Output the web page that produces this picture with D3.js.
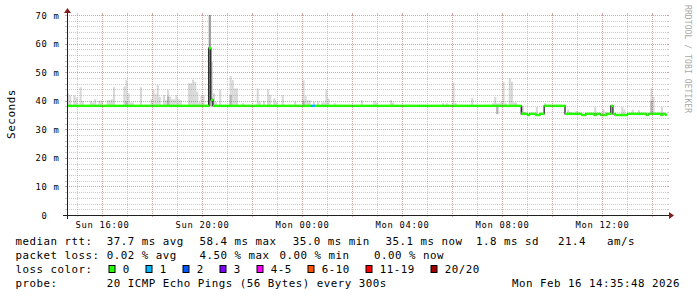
<!DOCTYPE html>
<html>
<head>
<meta charset="utf-8">
<script src="https://cdn.jsdelivr.net/npm/d3@7"></script>
<style>
body { margin: 0; background: #fff; }
text { font-family: "DejaVu Sans Mono", monospace; white-space: pre; }
</style>
</head>
<body>
<script>
(function () {
    //time window of the graph (24 hours, 5 minute samples)
    var tEnd = Date.UTC(2026, 1, 16, 14, 35, 48);
    var tStart = tEnd - 24 * 3600 * 1000;
    var sampleStart = Date.UTC(2026, 1, 15, 14, 36, 0); //left edge of sample 0
    var sampleStep = 300 * 1000;
    var sampleCount = 288;

    //median rtt (ms) as runs: [first sample, value]
    var medianRuns = [
        [0, 38.2], [68, 58.4], [69, 40.3], [70, 38.2],
        [218, 35.4], [221, 35.0], [222, 35.4], [225, 35.0], [227, 35.4],
        [229, 38.2],
        [239, 35.4], [247, 35.0], [249, 35.4], [253, 35.0], [254, 35.4], [256, 35.0], [259, 35.4],
        [261, 38.2],
        [262, 35.4], [263, 35.0], [269, 35.4], [278, 35.0], [279, 35.4], [285, 35.0], [286, 35.4], [287, 35.1]
    ];
    //lost pings per sample as runs: [first sample, lost]
    var lossRuns = [[0, 0], [117, 1], [119, 0]];

    //smoke: [sample, top ms, dark top ms (or null), bottom ms (or null = median)]
    var smoke = [
        [0, 42.6], [1, 41.9], [3, 41.9], [4, 41.2], [6, 44.7], [7, 40.0], [11, 40.0], [12, 39.4],
        [13, 40.5], [15, 40.0], [16, 40.0], [19, 40.2], [20, 40.2], [21, 40.5], [22, 44.7],
        [27, 44.9], [28, 47.2, 39.8], [29, 42.6], [30, 39.4], [31, 39.4], [35, 44.7],
        [40, 40.5], [41, 43.8], [42, 42.3], [43, 45.5], [44, 41.4], [46, 42.0], [47, 40.2],
        [48, 43.8, 41.5], [49, 41.4], [50, 40.5], [51, 40.5], [52, 42.0], [53, 40.5], [54, 40.2],
        [58, 46.1], [59, 46.1], [60, 47.4], [61, 46.6], [62, 43.2], [63, 39.4], [64, 41.9], [65, 41.9],
        [68, 71.0, 71.0, 38.2], [69, 53.7, 41.0, 38.2], [70, 42.6], [71, 39.5], [73, 44.0],
        [78, 48.6, 42.0], [79, 47.2], [80, 44.3], [81, 44.3], [84, 39.1],
        [91, 44.3], [92, 39.7], [94, 40.0], [96, 44.0], [97, 42.0], [99, 40.8], [100, 39.7],
        [103, 42.0], [109, 39.7], [113, 47.2, 40.0], [114, 41.6], [115, 40.2], [116, 40.2],
        [118, 39.7], [120, 39.7], [122, 39.4], [123, 39.4], [124, 44.0], [125, 40.8], [128, 39.1],
        [141, 40.2], [147, 40.0], [148, 39.4], [155, 40.2], [156, 39.4],
        [180, 39.1], [182, 39.1], [185, 46.3], [186, 39.1], [194, 41.0],
        [204, 39.1], [205, 41.4], [206, 39.1, 38.2, 35.3], [207, 39.1], [208, 39.7], [209, 46.6],
        [210, 39.1], [212, 47.8], [213, 46.6], [214, 39.4], [215, 39.4],
        [218, 38.2, 38.2, 35.2], [219, 36.0, 36.0], [225, 37.8], [229, 39.1],
        [240, 36.9], [241, 36.1], [244, 36.4], [245, 36.1], [253, 37.8], [257, 36.9], [258, 36.1],
        [266, 37.8], [267, 36.9], [271, 36.9], [274, 36.7], [280, 44.3, 40.0], [281, 41.4], [285, 37.8]
    ];

    var yTicks = [0, 10, 20, 30, 40, 50, 60, 70];
    var yTickLabels = [" 0", "10 m", "20 m", "30 m", "40 m", "50 m", "60 m", "70 m"];

    var lossLabels = ["0", "1", "2", "3", "4-5", "6-10", "11-19", "20/20"];
    var lossColors = ["#26ff00", "#00b8ff", "#0059ff", "#7e00ff", "#ff00ff", "#ff5500", "#ff0000", "#a10000"];

    var rttItems = ["median rtt:", "37.7 ms avg", "58.4 ms max", "35.0 ms min", "35.1 ms now", "1.8 ms sd", "21.4   am/s"];
    var lossItems = ["packet loss:", "0.02 % avg", "4.50 % max", "0.00 % min", "0.00 % now"];
    var probeItems = ["probe:", "20 ICMP Echo Pings (56 Bytes) every 300s", "Mon Feb 16 14:35:48 2026"];

    //layout
    var width = 697, height = 297;
    var X0 = 67, X1 = 667, Y0 = 215, Y1 = 15;

    var svg = d3.select("body").append("svg")
        .attr("width", width)
        .attr("height", height);

    var x = d3.scaleUtc().domain([tStart, tEnd]).range([X0, X1]);
    var y = d3.scaleLinear().domain([0, 70]).range([Y0, Y1]);

    //expand runs into one value per sample
    function fromRuns(runs) {
        var out = [], r = 0;
        for (var k = 0; k < sampleCount; k++) {
            while (r + 1 < runs.length && runs[r + 1][0] <= k) r++;
            out.push(runs[r][1]);
        }
        return out;
    }
    var median = fromRuns(medianRuns);
    var loss = fromRuns(lossRuns);
    function tLeft(k) { return sampleStart + k * sampleStep; }

    svg.append("defs").append("clipPath").attr("id", "plot")
        .append("rect").attr("x", X0).attr("y", Y1).attr("width", X1 - X0).attr("height", Y0 - Y1);

    var plot = svg.append("g").attr("clip-path", "url(#plot)");

    //smoke, light part then dark part
    plot.selectAll(".smoke").data(smoke).enter().append("rect")
        .attr("x", function (d) { return x(tLeft(d[0])); })
        .attr("width", function (d) { return x(tLeft(d[0] + 1)) - x(tLeft(d[0])); })
        .attr("y", function (d) { return y(d[1]); })
        .attr("height", function (d) { var lo = d[3] != null ? d[3] : median[d[0]]; return Math.max(0, y(lo) - y(d[1])); })
        .attr("fill", "#d8d8d8");
    plot.selectAll(".smokeDark").data(smoke.filter(function (d) { return d[2] != null; })).enter().append("rect")
        .attr("x", function (d) { return x(tLeft(d[0])); })
        .attr("width", function (d) { return x(tLeft(d[0] + 1)) - x(tLeft(d[0])); })
        .attr("y", function (d) { return y(d[2]); })
        .attr("height", function (d) { var lo = d[3] != null ? d[3] : median[d[0]]; return Math.max(0, y(lo) - y(d[2])); })
        .attr("fill", function (d) { return d[2] > 60 ? "#9a9a9a" : "#b4b4b4"; });

    //grid
    var grid = svg.append("g");
    d3.range(2, 71, 2).forEach(function (v) {
        var major = v % 10 === 0;
        var c = major ? "rgba(130,30,30,0.4)" : "rgba(140,140,140,0.45)";
        var yy = Math.round(y(v)) + 0.5;
        grid.append("line").attr("x1", X0).attr("x2", X1).attr("y1", yy).attr("y2", yy)
            .attr("stroke", c).attr("stroke-dasharray", "1,1");
        grid.append("line").attr("x1", X0 - 2).attr("x2", X0).attr("y1", yy).attr("y2", yy).attr("stroke", c);
        grid.append("line").attr("x1", X1).attr("x2", X1 + 2).attr("y1", yy).attr("y2", yy).attr("stroke", c);
    });
    x.ticks(d3.utcHour.every(1)).forEach(function (t) {
        var major = t.getUTCHours() % 2 === 0;
        var c = major ? "rgba(130,30,30,0.4)" : "rgba(140,140,140,0.45)";
        var xx = Math.round(x(t)) + 0.5;
        grid.append("line").attr("x1", xx).attr("x2", xx).attr("y1", Y1).attr("y2", Y0)
            .attr("stroke", c).attr("stroke-dasharray", "1,1");
        grid.append("line").attr("x1", xx).attr("x2", xx).attr("y1", Y0).attr("y2", Y0 + 2).attr("stroke", c);
        grid.append("line").attr("x1", xx).attr("x2", xx).attr("y1", Y1 - 2).attr("y2", Y1).attr("stroke", c);
    });

    //median line (black steps) under the loss coloured band
    var pts = median.map(function (v, k) { return [x(tLeft(k)), y(v)]; });
    pts.push([x(tLeft(sampleCount)), y(median[sampleCount - 1])]);
    plot.append("path")
        .attr("d", d3.line().curve(d3.curveStepAfter)(pts))
        .attr("fill", "none")
        .attr("stroke", "#111")
        .attr("stroke-width", 1.2);

    var swidth = 0.42; //half height of the band in ms
    plot.selectAll(".band").data(median).enter().append("rect")
        .attr("x", function (d, k) { return x(tLeft(k)); })
        .attr("width", function (d, k) { return x(tLeft(k + 1)) - x(tLeft(k)) + 0.3; })
        .attr("y", function (d) { return y(d + swidth); })
        .attr("height", function (d) { return y(d - swidth) - y(d + swidth); })
        .attr("fill", function (d, k) { return lossColors[loss[k]]; });

    //axes with arrows
    svg.append("line").attr("x1", X0 - 4).attr("x2", X1 + 4).attr("y1", Y0 + 0.5).attr("y2", Y0 + 0.5)
        .attr("stroke", "#1f1f1f");
    svg.append("line").attr("x1", X0 + 0.5).attr("x2", X0 + 0.5).attr("y1", Y0 + 4).attr("y2", Y1 - 4)
        .attr("stroke", "#1f1f1f");
    svg.append("path").attr("d", "M" + (X1 + 2) + "," + (Y0 - 3) + "L" + (X1 + 2) + "," + (Y0 + 4) + "L" + (X1 + 7) + "," + (Y0 + 0.5) + "Z")
        .attr("fill", "#7f1f1f");
    svg.append("path").attr("d", "M" + (X0 - 3) + "," + (Y1 - 2) + "L" + (X0 + 4) + "," + (Y1 - 2) + "L" + (X0 + 0.5) + "," + (Y1 - 7) + "Z")
        .attr("fill", "#7f1f1f");

    //tick labels
    svg.selectAll(".ylab").data(yTicks).enter().append("text")
        .attr("x", 35.5)
        .attr("y", function (d) { return y(d) + 3.6; })
        .attr("font-size", "8.8px")
        .attr("letter-spacing", "0.7px")
        .text(function (d, i) { return yTickLabels[i]; });

    var fmt = d3.utcFormat("%a %H:%M");
    svg.selectAll(".xlab").data(x.ticks(d3.utcHour.every(4))).enter().append("text")
        .attr("x", function (d) { return x(d) + 0.4; })
        .attr("y", 227.5)
        .attr("text-anchor", "middle")
        .attr("font-size", "8.8px")
        .attr("letter-spacing", "0.7px")
        .text(function (d) { return fmt(d); });

    svg.append("text")
        .attr("transform", "translate(15,114) rotate(-90)")
        .attr("text-anchor", "middle")
        .attr("font-size", "11px")
        .attr("letter-spacing", "0.5px")
        .text("Seconds");

    svg.append("text")
        .attr("transform", "translate(684.5,5) rotate(90)")
        .attr("font-size", "8px")
        .attr("letter-spacing", "0.1px")
        .attr("fill", "#a8a8a8")
        .text("RRDTOOL / TOBI OETIKER");

    //legend
    function legendRow(items, xs, yy) {
        items.forEach(function (s, i) {
            svg.append("text")
                .attr("x", xs[i] - 0.6)
                .attr("y", yy)
                .attr("font-size", "10.8px")
                .attr("letter-spacing", "0.5px")
                .text(s);
        });
    }
    legendRow(rttItems, [16, 107.3, 200, 293.3, 386, 476.7, 558.7], 245);
    legendRow(lossItems, [16, 107.3, 200, 280, 374.7], 259);
    legendRow(["loss color:"], [16], 273);
    legendRow(probeItems, [16, 107.3, 512.7], 287);

    var bx = 109;
    lossLabels.forEach(function (s, i) {
        svg.append("rect")
            .attr("x", bx).attr("y", 265.5).attr("width", 6).attr("height", 7)
            .attr("fill", lossColors[i]).attr("stroke", "#000");
        legendRow([s], [bx + 14.3], 273);
        bx += 30 + 7 * s.length;
    });
})();
</script>
</body>
</html>
